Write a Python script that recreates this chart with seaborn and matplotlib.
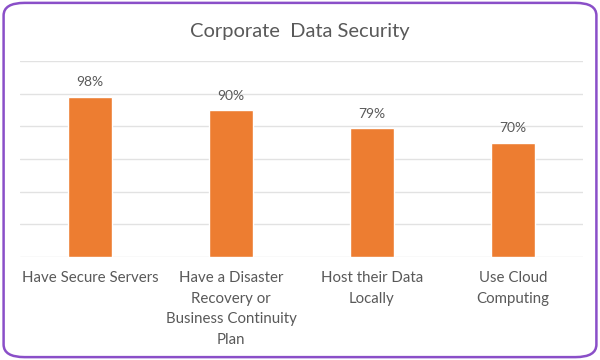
import matplotlib
matplotlib.use("Agg")
import matplotlib.pyplot as plt
import seaborn as sns
import pandas as pd
from matplotlib.patches import FancyBboxPatch

# datos
categorias = ["Have Secure Servers",
              "Have a Disaster\nRecovery or\nBusiness Continuity\nPlan",
              "Host their Data\nLocally",
              "Use Cloud\nComputing"]
valores = [98, 90, 79, 70]
titulo = "Corporate  Data Security"

df = pd.DataFrame({"categoria": categorias, "valor": valores})

sns.set_style("white")
plt.rcParams['font.family'] = ['Lato', 'DejaVu Sans']
gris = "#595959"

fig = plt.figure(figsize=(6, 3.6), dpi=100)
ax = fig.add_axes([0.033, 0.286, 0.939, 0.545])

sns.barplot(data=df, x="categoria", y="valor", color="#ED7D31", width=0.31,
            saturation=1, ax=ax)

ax.set_ylim(0, 120)
ax.set_yticks(range(0, 121, 20))
ax.yaxis.grid(True, color="#E2E2E2", linewidth=1)
ax.set_axisbelow(True)
ax.set_yticklabels([])
ax.tick_params(axis="y", length=0)
ax.tick_params(axis="x", length=0, pad=10, labelsize=10.8, labelcolor=gris)
for lbl in ax.get_xticklabels():
    lbl.set_linespacing(1.6)
ax.set_xlabel("")
ax.set_ylabel("")
for s in ax.spines.values():
    s.set_visible(False)

ax.bar_label(ax.containers[0], labels=[f"{v}%" for v in valores],
             padding=6, fontsize=10, color=gris)

fig.text(0.5, 0.912, titulo, ha="center", va="center", fontsize=14.5, color=gris)

# borde morado redondeado
borde = FancyBboxPatch((0.006, 0.008), 0.988, 0.984,
                       boxstyle="round,pad=0,rounding_size=0.035",
                       transform=fig.transFigure, facecolor="none",
                       edgecolor="#8A4FC8", linewidth=1.8)
fig.patches.append(borde)

fig.savefig("out.png", dpi=100)
